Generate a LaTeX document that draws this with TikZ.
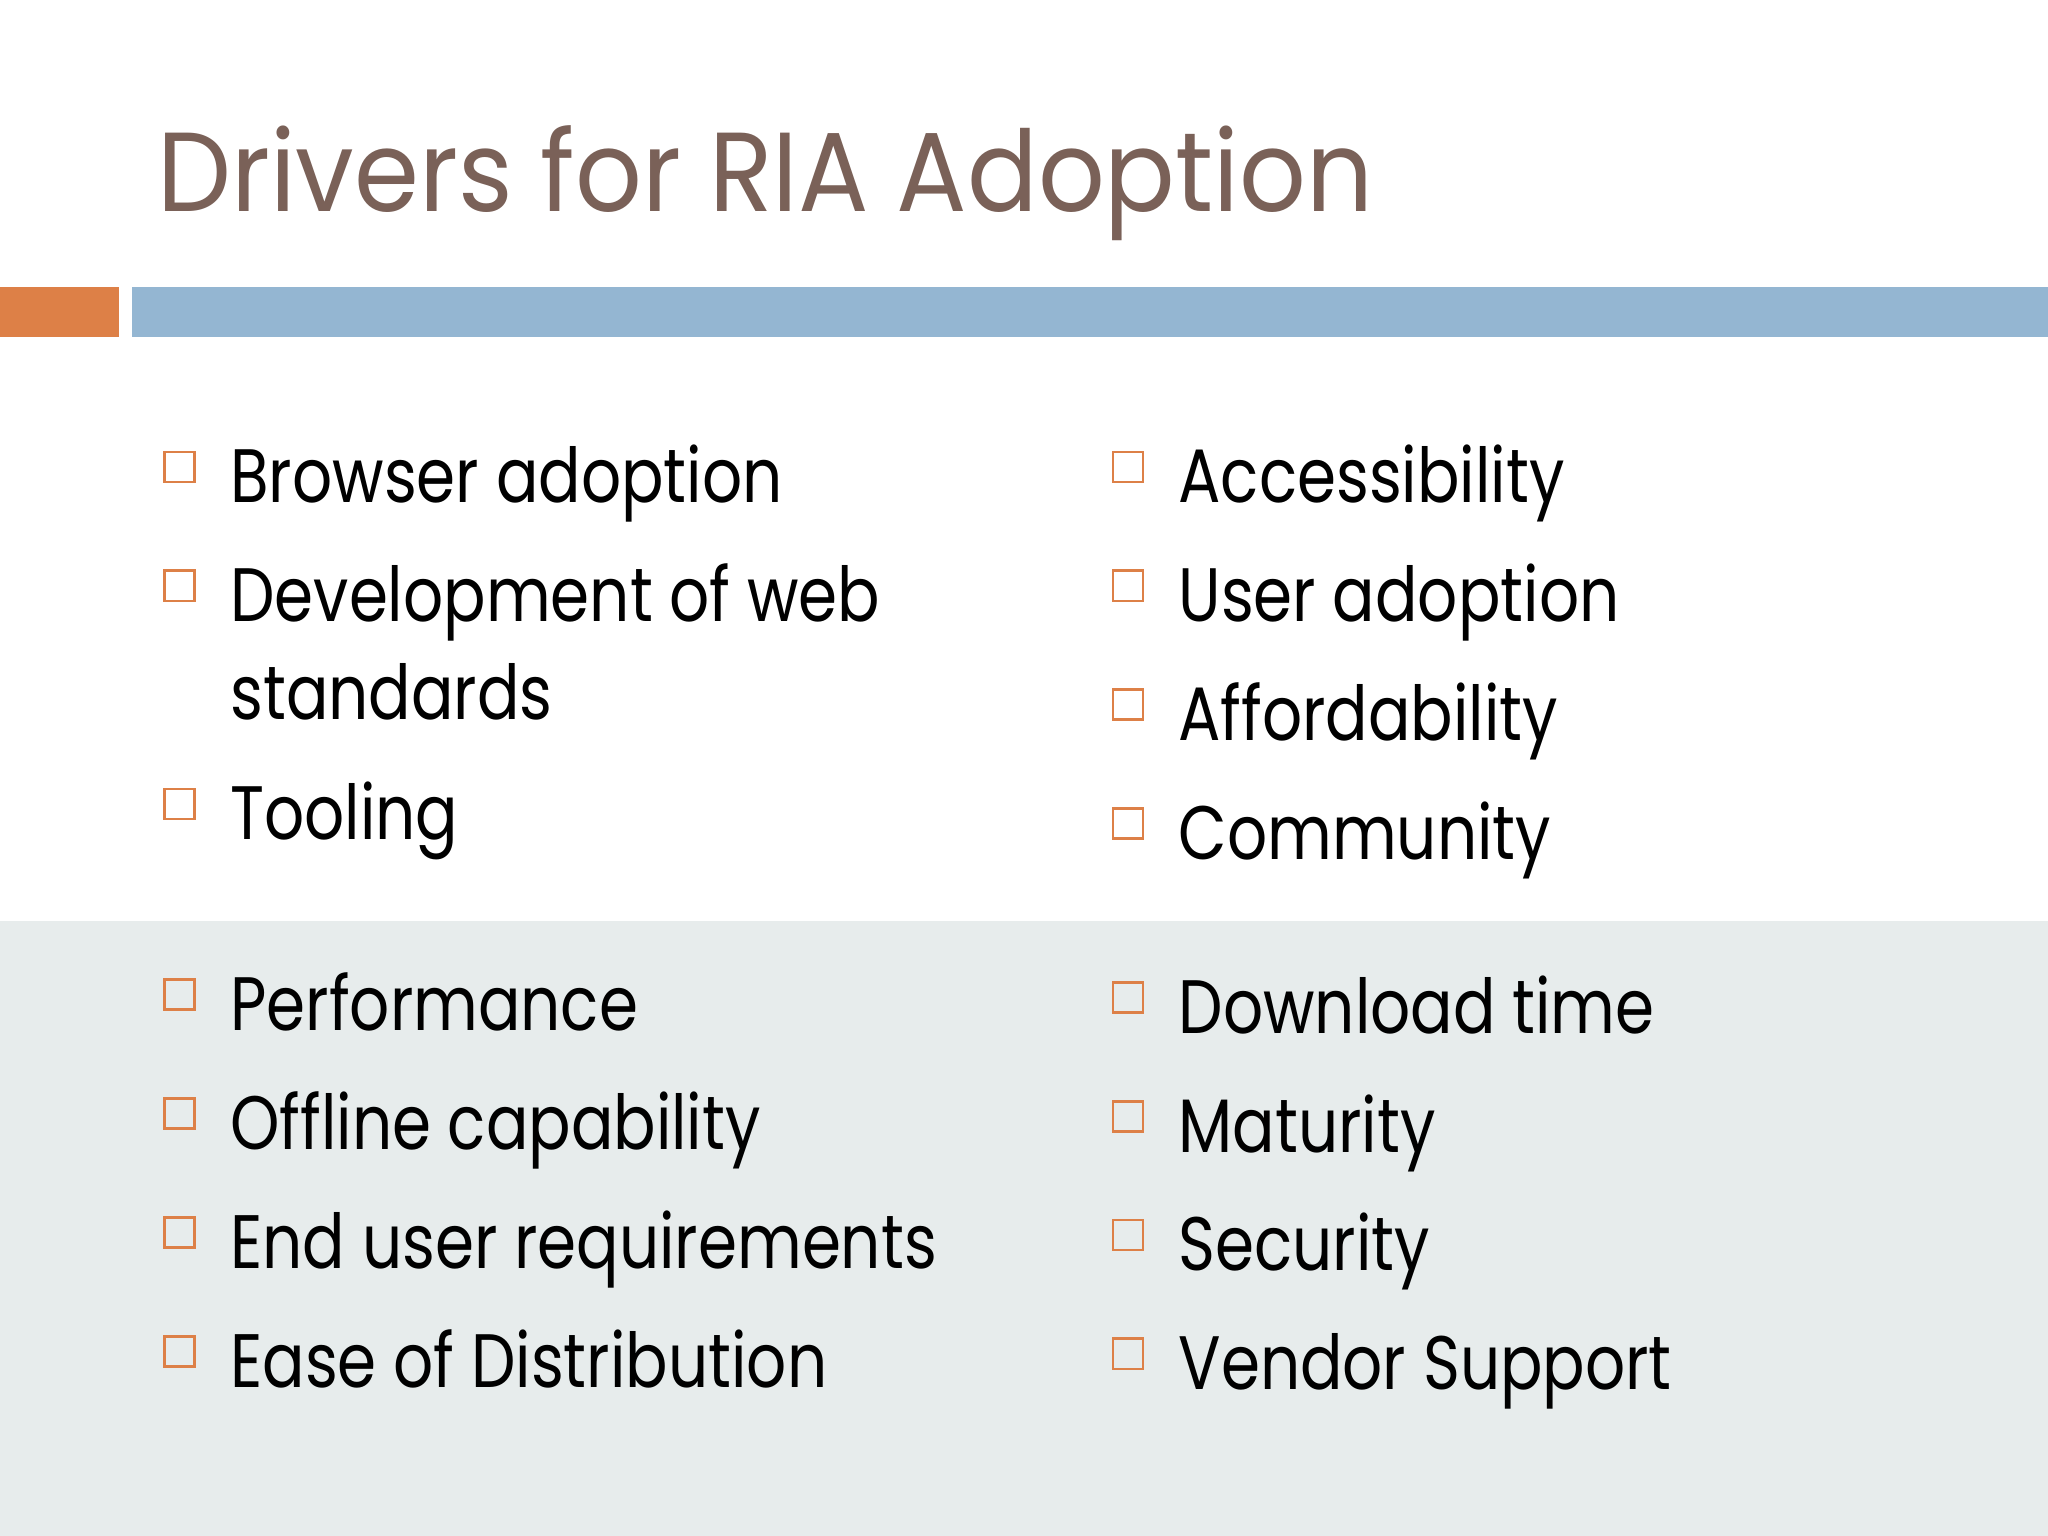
\documentclass[tikz,border=0pt]{standalone}
\usepackage{fontspec}
\setmainfont[FakeStretch=0.83]{Poppins}
\newfontfamily\titlefont[FakeStretch=0.93]{Poppins}
\definecolor{titlec}{HTML}{7A6158}
\definecolor{orangec}{HTML}{DD8047}
\definecolor{bluec}{HTML}{94B6D2}
\definecolor{greyc}{HTML}{E7ECEC}
\begin{document}
\begin{tikzpicture}[x=0.02cm,y=-0.02cm,
  itemtext/.style={anchor=base west,inner sep=0pt,font=\fontsize{33}{40}\selectfont},
  bul/.style={draw=orangec,line width=1.2pt,minimum size=0.46cm,inner sep=0pt,anchor=north west}]
\useasboundingbox (0,0) rectangle (1568,1176);
\fill[white] (0,0) rectangle (1568,1176);
\fill[greyc] (0,705) rectangle (1568,1176);
\fill[orangec] (0,220) rectangle (91,258);
\fill[bluec] (101,220) rectangle (1568,258);
\node[anchor=base west,inner sep=0pt,text=titlec,font=\titlefont\fontsize{49}{58}\selectfont] (title) at (120,162) {Drivers for RIA Adoption};
\foreach \t/\y/\n in {Browser adoption/385/a1,Development of web/476/a2,Tooling/643/a3,
  Performance/789/c1,Offline capability/880/c2,End user requirements/971/c3,Ease of Distribution/1062/c4}{
  \node[bul] (b\n) at (125,\y-40) {};
  \node[itemtext] (\n) at (176,\y) {\t};
}
\node[itemtext] (a2b) at (176,551) {standards};
\foreach \t/\y/\n in {Accessibility/385/r1,User adoption/476/r2,Affordability/567/r3,Community/658/r4,
  Download time/791/d1,Maturity/882/d2,Security/973/d3,Vendor Support/1064/d4}{
  \node[bul] (b\n) at (851,\y-40) {};
  \node[itemtext] (\n) at (902,\y) {\t};
}
\end{tikzpicture}
\end{document}
